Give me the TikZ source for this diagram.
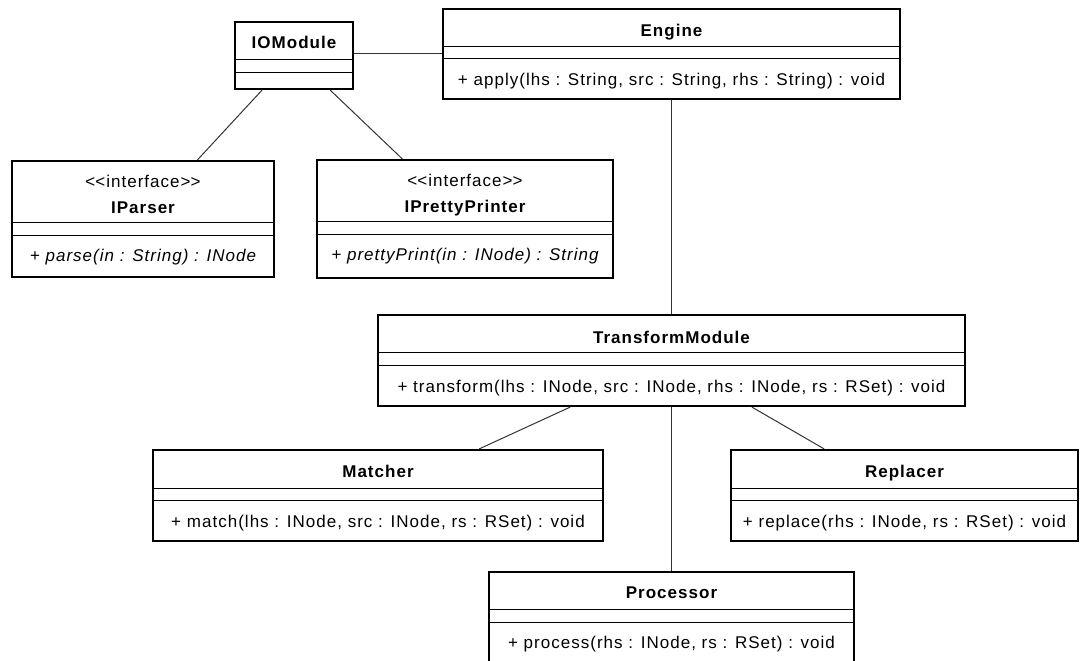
\documentclass[tikz,border=0pt]{standalone}
\usepackage{fontspec}
\setmainfont{Liberation Sans}[LetterSpace=6]
\usepackage{tikz}

\begin{document}
\begin{tikzpicture}[x=1pt,y=-1pt,
    box/.style={draw,line width=2.2pt,fill=white,inner sep=0pt},
    sep/.style={line width=1pt},
    link/.style={line width=1pt,draw=black!80},
    txt/.style={anchor=base,inner sep=0pt,font=\fontsize{17}{20}\selectfont},
    ttl/.style={txt,font=\fontsize{17}{20}\selectfont\bfseries},
    ops/.style={txt,font=\fontsize{17}{20}\selectfont\itshape}]
    \useasboundingbox (0,0) rectangle (1080,661);

    % Draw IO side
    \node[box,minimum width=118pt,minimum height=67pt] (io) at (294,55.5) {};
    \node[ttl] (io-t) at (294,49) {IOModule};
    \draw[sep] (235,60) -- (353,60);
    \draw[sep] (235,73) -- (353,73);

    \node[box,minimum width=262pt,minimum height=116pt] (parser) at (143,219) {};
    \node[txt] (parser-s) at (143,187) {<\kern0pt<interface>\kern0pt>};
    \node[ttl] (parser-t) at (143,213) {IParser};
    \draw[sep] (12,222) -- (274,222);
    \draw[sep] (12,235) -- (274,235);
    \node[ops] (parser-m) at (143,261) {+ parse(in : String) : INode};

    \node[box,minimum width=296pt,minimum height=118pt] (printer) at (465,219) {};
    \node[txt] (printer-s) at (465,186) {<\kern0pt<interface>\kern0pt>};
    \node[ttl] (printer-t) at (465,212) {IPrettyPrinter};
    \draw[sep] (317,221) -- (613,221);
    \draw[sep] (317,234) -- (613,234);
    \node[ops] (printer-m) at (465,260) {+ prettyPrint(in : INode) : String};

    % Draw engine
    \node[box,minimum width=457pt,minimum height=90pt] (engine) at (671.5,54) {};
    \node[ttl] (engine-t) at (671.5,37) {Engine};
    \draw[sep] (443,47) -- (900,47);
    \draw[sep] (443,59) -- (900,59);
    \node[txt] (engine-m) at (671.5,86) {+ apply(lhs : String, src : String, rhs : String) : void};

    % Draw transform side
    \node[box,minimum width=587pt,minimum height=91pt] (trans) at (671.5,360.5) {};
    \node[ttl] (trans-t) at (671.5,343) {TransformModule};
    \draw[sep] (378,352) -- (965,352);
    \draw[sep] (378,365) -- (965,365);
    \node[txt] (trans-m) at (671.5,392) {+ transform(lhs : INode, src : INode, rhs : INode, rs : RSet) : void};

    \node[box,minimum width=450pt,minimum height=91pt] (matcher) at (378,495.5) {};
    \node[ttl] (matcher-t) at (378,477) {Matcher};
    \draw[sep] (153,488) -- (603,488);
    \draw[sep] (153,500) -- (603,500);
    \node[txt] (matcher-m) at (378,527) {+ match(lhs : INode, src : INode, rs : RSet) : void};

    \node[box,minimum width=347pt,minimum height=91pt] (replacer) at (904.5,495.5) {};
    \node[ttl] (replacer-t) at (904.5,477) {Replacer};
    \draw[sep] (731,488) -- (1078,488);
    \draw[sep] (731,500) -- (1078,500);
    \node[txt] (replacer-m) at (904.5,527) {+ replace(rhs : INode, rs : RSet) : void};

    \node[box,minimum width=365pt,minimum height=92pt] (proc) at (671.5,618) {};
    \node[ttl] (proc-t) at (671.5,598) {Processor};
    \draw[sep] (489,609) -- (854,609);
    \draw[sep] (489,622) -- (854,622);
    \node[txt] (proc-m) at (671.5,648) {+ process(rhs : INode, rs : RSet) : void};

    % Draw links
    \draw[link] (io.east |- engine.west) -- (engine.west);
    \draw[link] (io) -- (parser);
    \draw[link] (io) -- (printer);
    \draw[link] (engine) -- (trans);
    \draw[link] (trans) -- (matcher);
    \draw[link] (trans) -- (replacer);
    \draw[link] (trans) -- (proc);
\end{tikzpicture}
\end{document}
